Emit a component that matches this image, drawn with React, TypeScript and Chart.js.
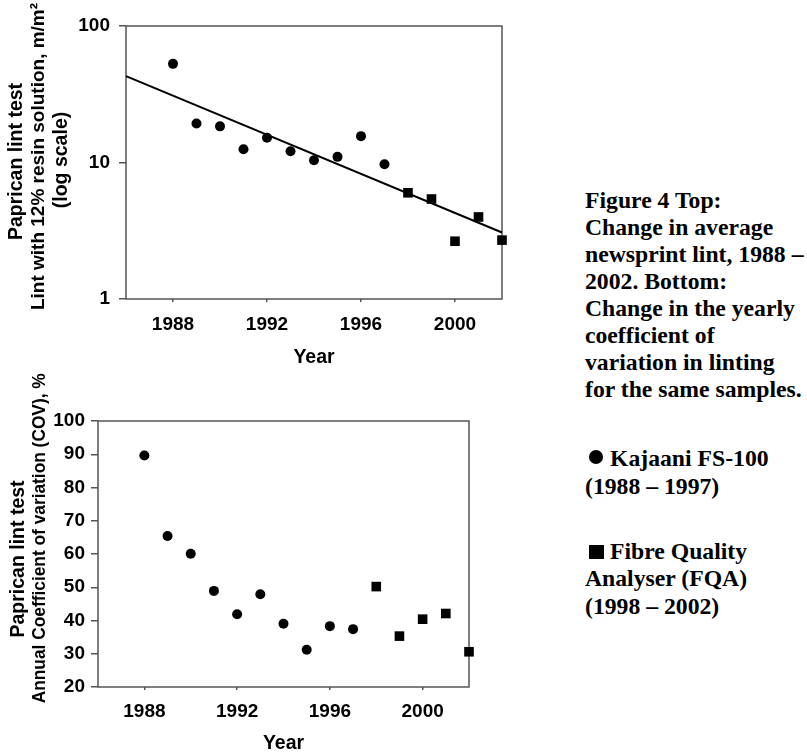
import React, { useEffect, useRef } from 'react';
import { Chart, registerables } from 'chart.js';

Chart.register(...registerables);

// ---------- data ----------
const kajaaniYears = [1988, 1989, 1990, 1991, 1992, 1993, 1994, 1995, 1996, 1997];
const fqaYears = [1998, 1999, 2000, 2001, 2002];
const lintKajaani = [52.8, 19.3, 18.4, 12.5, 15.2, 12.1, 10.4, 11.0, 15.6, 9.7];
const lintFqa = [6.0, 5.4, 2.65, 3.99, 2.7];
const trendYears = [1986, 2002];
const trendLint = [42.9, 3.07];
const covKajaani = [89.6, 65.4, 60.1, 48.9, 41.9, 47.9, 39.0, 31.2, 38.3, 37.4];
const covFqa = [50.2, 35.3, 40.4, 42.1, 30.6];
const xTickYears = [1988, 1992, 1996, 2000];
const lintTicks = [1, 10, 100];
const covTicks = [20, 30, 40, 50, 60, 70, 80, 90, 100];
const topYTitle = ['Paprican lint test', 'Lint with 12% resin solution, m/m²', '(log scale)'];
const bottomYTitle = ['Paprican lint test', 'Annual Coefficient of variation (COV), %'];
const xTitle = 'Year';
const captionLines = [
  'Figure 4 Top:',
  'Change in average',
  'newsprint lint, 1988 –',
  '2002. Bottom:',
  'Change in the yearly',
  'coefficient of',
  'variation in linting',
  'for the same samples.',
];
const legendKajaani = ['Kajaani FS-100', '(1988 – 1997)'];
const legendFqa = ['Fibre Quality', 'Analyser (FQA)', '(1998 – 2002)'];

// ---------- styles ----------
const SANS = '"Liberation Sans", Arial, sans-serif';
const SERIF = '"Liberation Serif", "Times New Roman", serif';
const AXIS_COLOR = '#555';

const pts = (xs: number[], ys: number[]) => xs.map((x, i) => ({ x, y: ys[i] }));

type TitleLine = { text: string; x: number; y: number; size: number; maxWidth?: number };

type PanelCfg = {
  padding: { left: number; right: number; top: number; bottom: number };
  yWidth: number;
  xHeight: number;
  yType: 'linear' | 'logarithmic';
  yMin: number;
  yMax: number;
  yTicks: number[];
  yTickLen: number;
  yTickPad: number;
  xTickPad: number;
  xTitlePadBottom: number;
  titleLines: TitleLine[];
  datasets: any[];
};

function makeChart(canvas: HTMLCanvasElement, cfg: PanelCfg) {
  const framePlugin = {
    id: 'frameBox',
    beforeDatasetsDraw(chart: any) {
      const { ctx, chartArea } = chart;
      ctx.save();
      ctx.strokeStyle = AXIS_COLOR;
      ctx.lineWidth = 1.5;
      ctx.strokeRect(chartArea.left, chartArea.top, chartArea.right - chartArea.left, chartArea.bottom - chartArea.top);
      ctx.restore();
    },
  };
  const yTitlePlugin = {
    id: 'yTitleLines',
    afterDraw(chart: any) {
      const { ctx } = chart;
      ctx.save();
      ctx.fillStyle = '#000';
      ctx.textAlign = 'center';
      ctx.textBaseline = 'middle';
      for (const l of cfg.titleLines) {
        ctx.save();
        ctx.font = `bold ${l.size}px ${SANS}`;
        ctx.translate(l.x, l.y);
        ctx.rotate(-Math.PI / 2);
        if (l.maxWidth) ctx.fillText(l.text, 0, 0, l.maxWidth);
        else ctx.fillText(l.text, 0, 0);
        ctx.restore();
      }
      ctx.restore();
    },
  };
  const tickFont = { family: SANS, size: 19, weight: 'bold' as const };
  return new Chart(canvas, {
    type: 'scatter',
    data: { datasets: cfg.datasets },
    options: {
      responsive: false,
      animation: false,
      devicePixelRatio: 1,
      layout: { padding: cfg.padding },
      plugins: { legend: { display: false }, tooltip: { enabled: false } },
      scales: {
        x: {
          type: 'linear',
          min: 1986,
          max: 2002,
          afterBuildTicks: (scale: any) => {
            scale.ticks = xTickYears.map((v) => ({ value: v }));
          },
          afterFit: (scale: any) => {
            scale.height = cfg.xHeight;
          },
          border: { display: false },
          grid: {
            display: true,
            drawOnChartArea: false,
            drawTicks: true,
            tickLength: 3,
            color: AXIS_COLOR,
            lineWidth: 1.5,
          },
          ticks: {
            color: '#000',
            font: tickFont,
            padding: cfg.xTickPad,
            maxRotation: 0,
            autoSkip: false,
            callback: (v: any) => String(v),
          },
          title: {
            display: true,
            text: xTitle,
            color: '#000',
            font: { family: SANS, size: 19.5, weight: 'bold' },
            padding: { top: 0, bottom: cfg.xTitlePadBottom },
          },
        },
        y: {
          type: cfg.yType,
          min: cfg.yMin,
          max: cfg.yMax,
          afterBuildTicks: (scale: any) => {
            scale.ticks = cfg.yTicks.map((v) => ({ value: v }));
          },
          afterFit: (scale: any) => {
            scale.width = cfg.yWidth;
          },
          border: { display: false },
          grid: {
            display: true,
            drawOnChartArea: false,
            drawTicks: true,
            tickLength: cfg.yTickLen,
            color: AXIS_COLOR,
            lineWidth: 1.5,
          },
          ticks: {
            color: '#000',
            font: tickFont,
            padding: cfg.yTickPad,
            autoSkip: false,
            callback: (v: any) => String(v),
          },
        } as any,
      },
    },
    plugins: [framePlugin, yTitlePlugin],
  });
}

const circleSet = (data: any[]) => ({
  data,
  pointStyle: 'circle',
  pointRadius: 5,
  backgroundColor: '#000',
  borderColor: '#000',
  borderWidth: 0,
  clip: false,
});
const squareSet = (data: any[]) => ({
  data,
  pointStyle: 'rect',
  pointRadius: 6.8,
  backgroundColor: '#000',
  borderColor: '#000',
  borderWidth: 0,
  clip: false,
});

const TOP_H = 380;
const BOT_TOP = 350;
const BOT_H = 756 - BOT_TOP;

export default function App() {
  const topRef = useRef<HTMLCanvasElement>(null);
  const botRef = useRef<HTMLCanvasElement>(null);

  useEffect(() => {
    const top = makeChart(topRef.current!, {
      padding: { left: 0, right: 18, top: 26, bottom: 0 },
      yWidth: 126,
      xHeight: TOP_H - 299,
      yType: 'logarithmic',
      yMin: 1,
      yMax: 100,
      yTicks: lintTicks,
      yTickLen: 7,
      yTickPad: 9,
      xTickPad: 11.5,
      xTitlePadBottom: 11,
      titleLines: [
        { text: topYTitle[0], x: 16.6, y: 161.5, size: 19.5 },
        { text: topYTitle[1], x: 39.1, y: 156.5, size: 19 },
        { text: topYTitle[2], x: 61.6, y: 160, size: 19.5 },
      ],
      datasets: [
        {
          data: pts(trendYears, trendLint),
          showLine: true,
          borderColor: '#000',
          borderWidth: 2,
          pointRadius: 0,
          clip: false,
        },
        circleSet(pts(kajaaniYears, lintKajaani)),
        squareSet(pts(fqaYears, lintFqa)),
      ],
    });
    const bot = makeChart(botRef.current!, {
      padding: { left: 0, right: 51, top: 421 - BOT_TOP, bottom: 0 },
      yWidth: 98,
      xHeight: 756 - 687,
      yType: 'linear',
      yMin: 20,
      yMax: 100,
      yTicks: covTicks,
      yTickLen: 7,
      yTickPad: 6,
      xTickPad: 10.3,
      xTitlePadBottom: 1.1,
      titleLines: [
        { text: bottomYTitle[0], x: 18.3, y: 559 - BOT_TOP, size: 19.5 },
        { text: bottomYTitle[1], x: 39.8, y: 538.3 - BOT_TOP, size: 19, maxWidth: 330 },
      ],
      datasets: [circleSet(pts(kajaaniYears, covKajaani)), squareSet(pts(fqaYears, covFqa))],
    });
    return () => {
      top.destroy();
      bot.destroy();
    };
  }, []);

  const textStyle: React.CSSProperties = {
    position: 'absolute',
    fontFamily: SERIF,
    fontWeight: 'bold',
    fontSize: '23.7px',
    lineHeight: '27px',
    whiteSpace: 'pre',
    color: '#000',
  };
  const BASE_OFF = 21.5;

  return (
    <div style={{ position: 'absolute', left: 0, top: 0, width: 807, height: 756, background: '#fff', overflow: 'hidden' }}>
      <canvas ref={topRef} width={520} height={TOP_H} style={{ position: 'absolute', left: 0, top: 0, width: 520, height: TOP_H }} />
      <canvas ref={botRef} width={520} height={BOT_H} style={{ position: 'absolute', left: 0, top: BOT_TOP, width: 520, height: BOT_H }} />
      <div style={{ ...textStyle, left: 585, top: 208 - BASE_OFF }}>
        {captionLines.map((l, i) => (
          <div key={i}>{l}</div>
        ))}
      </div>
      <div style={{ position: 'absolute', left: 589.3, top: 450.3, width: 14, height: 14, borderRadius: '50%', background: '#000' }} />
      <div style={{ ...textStyle, left: 610, top: 466 - BASE_OFF }}>{legendKajaani[0]}</div>
      <div style={{ ...textStyle, left: 585, top: 494 - BASE_OFF }}>{legendKajaani[1]}</div>
      <div style={{ position: 'absolute', left: 589.3, top: 545, width: 14.5, height: 13.5, background: '#000' }} />
      <div style={{ ...textStyle, left: 610, top: 559.3 - BASE_OFF }}>{legendFqa[0]}</div>
      <div style={{ ...textStyle, left: 585, top: 586.7 - BASE_OFF }}>{legendFqa[1]}</div>
      <div style={{ ...textStyle, left: 585, top: 614.3 - BASE_OFF }}>{legendFqa[2]}</div>
    </div>
  );
}
